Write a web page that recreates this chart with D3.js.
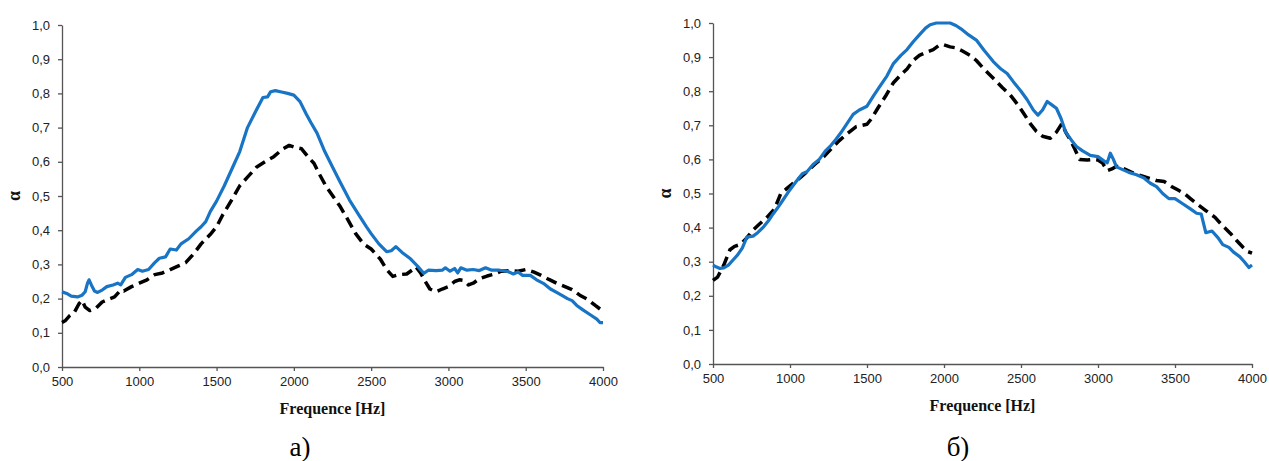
<!DOCTYPE html>
<html lang="ru">
<head>
<meta charset="UTF-8">
<title>α(f)</title>
<script src="https://cdn.jsdelivr.net/npm/d3@7"></script>
<style>
  body { margin: 0; background: #fff; }
  .tick text { font-family: "Liberation Sans", Arial, sans-serif; font-size: 13px; fill: #222; }
  .axis path, .axis line { stroke: #555; stroke-width: 1.3px; }
  .serif { font-family: "Liberation Serif", "DejaVu Serif", "Times New Roman", Times, serif; }
</style>
</head>
<body>
<script>
// --- data ---
const yTicks = [0, 0.1, 0.2, 0.3, 0.4, 0.5, 0.6, 0.7, 0.8, 0.9, 1.0];
const xTicks = [500, 1000, 1500, 2000, 2500, 3000, 3500, 4000];

// panel a)
const aBlueF = [500,530,560,600,630,650,665,675,690,710,730,760,790,830,860,880,910,950,990,1020,1060,1100,1130,1170,1200,1240,1270,1320,1370,1400,1430,1460,1500,1550,1610,1650,1700,1750,1800,1830,1850,1880,1920,1960,2000,2040,2080,2110,2150,2200,2250,2300,2360,2420,2470,2500,2550,2600,2630,2660,2700,2750,2800,2840,2870,2920,2960,2980,3010,3040,3060,3080,3120,3160,3200,3240,3280,3330,3380,3420,3450,3480,3530,3570,3620,3660,3700,3740,3770,3800,3830,3870,3920,3960,3980,4000];
const aBlue  = [0.22,0.215,0.207,0.205,0.21,0.22,0.245,0.255,0.24,0.222,0.218,0.225,0.235,0.24,0.245,0.24,0.262,0.27,0.285,0.28,0.285,0.305,0.318,0.322,0.345,0.342,0.36,0.375,0.398,0.41,0.425,0.455,0.485,0.53,0.59,0.63,0.70,0.745,0.788,0.79,0.805,0.808,0.804,0.80,0.795,0.776,0.74,0.715,0.684,0.63,0.585,0.54,0.488,0.445,0.41,0.39,0.36,0.337,0.34,0.352,0.335,0.318,0.295,0.274,0.283,0.282,0.283,0.29,0.28,0.288,0.275,0.29,0.283,0.285,0.282,0.29,0.283,0.283,0.28,0.272,0.278,0.268,0.268,0.255,0.243,0.228,0.218,0.208,0.2,0.194,0.18,0.167,0.152,0.14,0.13,0.13];
const aBlackF = [500,520,550,580,610,630,650,680,720,760,800,840,880,900,950,1000,1050,1100,1150,1200,1250,1300,1350,1400,1460,1500,1540,1600,1650,1700,1760,1820,1870,1930,1970,2010,2050,2100,2130,2170,2210,2260,2300,2350,2400,2450,2500,2560,2600,2640,2680,2730,2770,2790,2820,2850,2880,2920,2960,3000,3040,3070,3100,3130,3160,3200,3250,3300,3340,3400,3450,3500,3550,3600,3650,3700,3750,3800,3850,3900,3950,4000];
const aBlack  = [0.13,0.135,0.15,0.16,0.185,0.195,0.175,0.165,0.172,0.19,0.198,0.205,0.225,0.222,0.235,0.245,0.255,0.27,0.275,0.285,0.295,0.305,0.33,0.36,0.388,0.41,0.445,0.49,0.53,0.555,0.585,0.602,0.615,0.638,0.648,0.642,0.638,0.61,0.596,0.56,0.527,0.495,0.469,0.43,0.39,0.36,0.345,0.315,0.285,0.265,0.27,0.272,0.285,0.293,0.275,0.25,0.228,0.22,0.228,0.235,0.25,0.255,0.253,0.24,0.245,0.258,0.266,0.272,0.28,0.282,0.28,0.285,0.278,0.268,0.256,0.245,0.236,0.226,0.21,0.198,0.18,0.163];

// panel б)
const bBlueF = [500,520,545,570,600,630,660,690,720,760,790,830,860,890,920,950,990,1040,1080,1110,1150,1190,1230,1260,1300,1330,1370,1410,1450,1500,1540,1580,1630,1670,1720,1760,1800,1840,1880,1910,1950,2000,2040,2080,2110,2160,2210,2260,2320,2370,2410,2450,2500,2540,2580,2610,2640,2670,2700,2730,2760,2790,2830,2860,2900,2950,3000,3040,3060,3080,3100,3120,3160,3200,3250,3300,3340,3380,3420,3460,3500,3550,3600,3640,3670,3700,3740,3780,3810,3850,3880,3920,3950,3980,4000];
const bBlue  = [0.29,0.285,0.28,0.282,0.29,0.305,0.32,0.34,0.372,0.375,0.385,0.403,0.42,0.44,0.458,0.478,0.505,0.535,0.558,0.564,0.585,0.6,0.625,0.638,0.66,0.678,0.705,0.732,0.745,0.756,0.785,0.812,0.845,0.88,0.905,0.922,0.945,0.965,0.985,0.995,1.0,1.0,1.0,0.992,0.983,0.965,0.95,0.92,0.887,0.865,0.852,0.828,0.8,0.775,0.745,0.73,0.745,0.77,0.76,0.75,0.72,0.68,0.655,0.638,0.625,0.612,0.608,0.595,0.59,0.618,0.6,0.578,0.57,0.562,0.555,0.545,0.53,0.52,0.5,0.485,0.485,0.47,0.455,0.442,0.44,0.385,0.39,0.37,0.35,0.342,0.328,0.315,0.3,0.283,0.29];
const bBlackF = [500,530,570,610,640,675,710,760,800,850,900,940,980,1020,1070,1110,1160,1220,1270,1320,1370,1430,1470,1500,1530,1570,1620,1670,1720,1760,1800,1840,1890,1930,1970,2000,2040,2080,2120,2170,2210,2260,2320,2380,2430,2480,2520,2560,2600,2640,2690,2730,2765,2790,2820,2850,2880,2930,2970,3000,3030,3060,3090,3120,3170,3230,3280,3330,3380,3430,3480,3520,3560,3600,3650,3700,3760,3810,3860,3900,3940,3970,4000];
const bBlack  = [0.245,0.255,0.29,0.335,0.345,0.35,0.365,0.393,0.41,0.43,0.455,0.5,0.515,0.53,0.548,0.564,0.585,0.608,0.632,0.655,0.675,0.696,0.7,0.703,0.72,0.75,0.785,0.824,0.848,0.865,0.89,0.905,0.915,0.922,0.935,0.936,0.93,0.927,0.918,0.905,0.89,0.865,0.838,0.81,0.789,0.76,0.733,0.705,0.682,0.668,0.662,0.68,0.705,0.68,0.657,0.63,0.6,0.598,0.6,0.598,0.589,0.567,0.572,0.58,0.572,0.56,0.552,0.545,0.538,0.535,0.52,0.51,0.5,0.485,0.467,0.45,0.43,0.405,0.383,0.362,0.343,0.33,0.325];

const W = 1269, H = 461;
const svg = d3.select('body').append('svg')
  .attr('width', W).attr('height', H);

const panels = [
  { left: 62,  right: 603,  top: 25, bottom: 367, label: 'а)', labelX: 300, titleY: 414, alphaX: 15,
    series: [[aBlackF, aBlack], [aBlueF, aBlue]] },
  { left: 713, right: 1252, top: 23, bottom: 364, label: 'б)', labelX: 958, titleY: 411, alphaX: 666,
    series: [[bBlackF, bBlack], [bBlueF, bBlue]] }
];

const styles = [
  { stroke: '#000', dash: '11,6', width: 3.5 },
  { stroke: '#1874c4', dash: null, width: 3.2 }
];

panels.forEach(p => {
  const x = d3.scaleLinear().domain([500, 4000]).range([p.left, p.right]);
  const y = d3.scaleLinear().domain([0, 1]).range([p.bottom, p.top]);

  const g = svg.append('g');

  g.append('g').attr('class', 'axis')
    .attr('transform', `translate(0,${p.bottom})`)
    .call(d3.axisBottom(x).tickValues(xTicks).tickSize(4).tickPadding(6).tickSizeOuter(0))
    .call(a => a.selectAll('text').text(d => d));

  g.append('g').attr('class', 'axis')
    .attr('transform', `translate(${p.left},0)`)
    .call(d3.axisLeft(y).tickValues(yTicks).tickSize(4).tickPadding(8).tickSizeOuter(0)
      .tickFormat(d => d3.format('.1f')(d).replace('.', ',')));

  const line = d3.line().x(d => x(d[0])).y(d => y(d[1]));

  p.series.forEach((s, i) => {
    const pts = d3.zip(s[0], s[1]);
    g.append('path')
      .datum(pts)
      .attr('d', line)
      .attr('fill', 'none')
      .attr('stroke', styles[i].stroke)
      .attr('stroke-width', styles[i].width)
      .attr('stroke-dasharray', styles[i].dash)
      .attr('stroke-linejoin', 'round');
  });

  // axis titles
  g.append('text')
    .attr('class', 'serif')
    .attr('x', (p.left + p.right) / 2).attr('y', p.titleY)
    .attr('text-anchor', 'middle')
    .attr('font-weight', 'bold').attr('font-size', 16).attr('fill', '#111')
    .text('Frequence [Hz]');

  g.append('text')
    .attr('class', 'serif')
    .attr('transform', `translate(${p.alphaX + 5},${y(0.5)}) rotate(-90)`)
    .attr('text-anchor', 'middle')
    .attr('font-weight', 'bold').attr('font-size', 18).attr('fill', '#111')
    .text('α');

  g.append('text')
    .attr('class', 'serif')
    .attr('x', p.labelX).attr('y', 456)
    .attr('text-anchor', 'middle')
    .attr('font-size', 27).attr('fill', '#000')
    .text(p.label);
});
</script>
</body>
</html>
